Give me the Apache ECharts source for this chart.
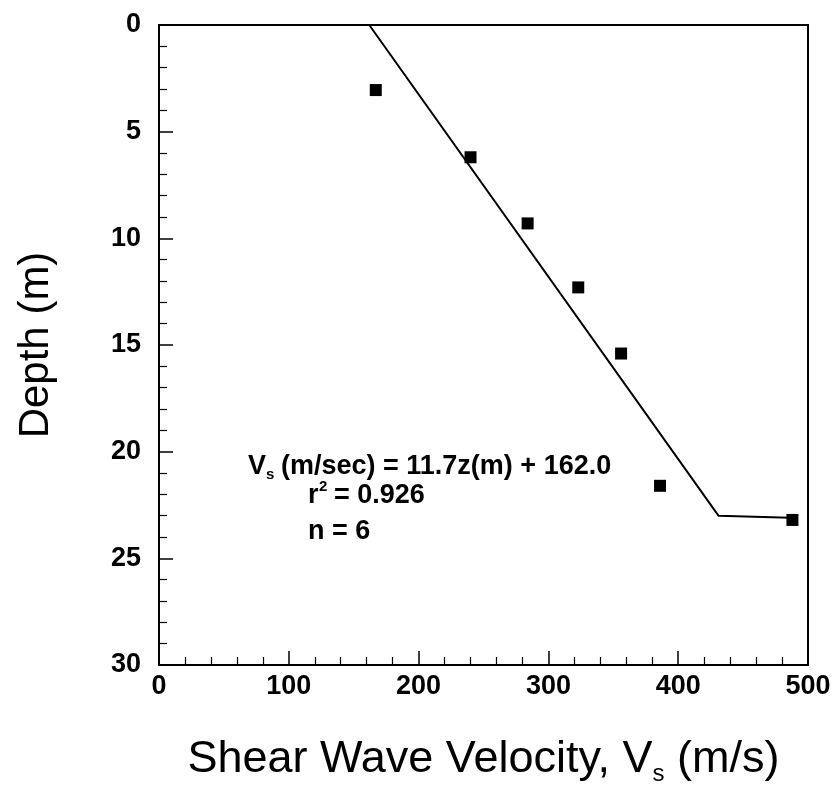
<!DOCTYPE html>
<html lang="en">
<head>
    <meta charset="UTF-8">
    <title>Shear wave velocity vs depth</title>
    <style>
        body { margin: 0; background: #fff; }
        #main { width: 840px; height: 797px; }
    </style>
</head>
<body>
    <div id="main"></div>
    <script src="https://cdn.jsdelivr.net/npm/echarts@6/dist/echarts.min.js"></script>
    <script>
        // measured points: [Vs (m/s), depth (m)]
        var measured = [
            [167, 3.05], [240, 6.2], [284, 9.3], [323, 12.3],
            [356, 15.4], [386, 21.6], [488, 23.2]
        ]
        // regression line Vs = 11.7z + 162.0, then flat to last point
        var fitLine = [[162, 0], [431, 23.0], [486, 23.1]]
        var xTicks = [0, 100, 200, 300, 400, 500]
        var yTicks = [0, 5, 10, 15, 20, 25, 30]

        var font = 'Liberation Sans, Arial, sans-serif'
        var myChart = echarts.init(document.getElementById('main'))

        // small helper for the annotation text pieces
        function txt(str, left, top, size) {
            return {
                type: 'text', left: left, top: top,
                style: { text: str, fontFamily: font, fontSize: size, fontWeight: 'bold', fill: '#000' }
            }
        }

        var option = {
            backgroundColor: '#fff',
            animation: false,
            grid: {
                left: 159, right: 32, top: 25, bottom: 132,
                show: true, borderColor: '#000', borderWidth: 2
            },
            xAxis: {
                type: 'value', min: xTicks[0], max: xTicks[xTicks.length - 1], interval: 100,
                position: 'bottom',
                name: '{s|Shear Wave Velocity, V}{sub|s}{s| (m/s)}',
                nameLocation: 'middle', nameGap: 69,
                nameTextStyle: {
                    rich: {
                        s: { fontFamily: font, fontSize: 45, color: '#000' },
                        sub: { fontFamily: font, fontSize: 24, color: '#000', padding: [28, 0, 0, 0] }
                    }
                },
                axisLine: { show: true, onZero: false, lineStyle: { color: '#000', width: 2 } },
                axisTick: { inside: true, length: 14, lineStyle: { color: '#000', width: 1.5 } },
                minorTick: { show: true, splitNumber: 5, length: 8, lineStyle: { color: '#000', width: 1.2 } },
                splitLine: { show: false },
                axisLabel: { fontFamily: font, fontSize: 27, fontWeight: 'bold', color: '#000', margin: 8 }
            },
            yAxis: {
                type: 'value', inverse: true, min: yTicks[0], max: yTicks[yTicks.length - 1], interval: 5,
                name: 'Depth (m)', nameLocation: 'middle', nameGap: 102,
                nameTextStyle: { fontFamily: font, fontSize: 42, color: '#000' },
                axisLine: { show: true, onZero: false, lineStyle: { color: '#000', width: 2 } },
                axisTick: { inside: true, length: 14, lineStyle: { color: '#000', width: 1.5 } },
                minorTick: { show: true, splitNumber: 5, length: 8, lineStyle: { color: '#000', width: 1.2 } },
                splitLine: { show: false },
                axisLabel: { fontFamily: font, fontSize: 27, fontWeight: 'bold', color: '#000', margin: 18 }
            },
            series: [
                {
                    type: 'line', data: fitLine, symbol: 'none',
                    lineStyle: { color: '#000', width: 2 }
                },
                {
                    type: 'scatter', data: measured, symbol: 'rect', symbolSize: 12,
                    itemStyle: { color: '#000', opacity: 1 }
                }
            ],
            graphic: [
                txt('V', 248, 453, 27),
                txt('s', 266, 467, 15),
                txt('(m/sec) = 11.7z(m) + 162.0', 281, 453, 27),
                txt('r', 308, 482, 27),
                txt('2', 319, 479, 15),
                txt('= 0.926', 334, 482, 27),
                txt('n = 6', 308, 518, 27)
            ]
        }
        myChart.setOption(option)
    </script>
</body>
</html>
